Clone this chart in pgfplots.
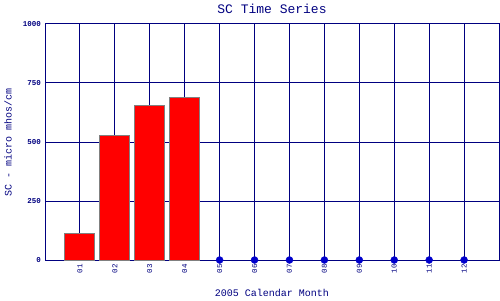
\documentclass[border=0pt]{standalone}
\usepackage{fontspec}
\setmainfont{Liberation Mono}
\usepackage{pgfplots}
\pgfplotsset{compat=1.18}
\definecolor{navy}{RGB}{0,0,128}
\definecolor{dotblue}{RGB}{0,0,204}
\begin{document}
\begin{tikzpicture}[x=1pt,y=1pt]
\useasboundingbox (0,0) rectangle (500,300);
\begin{axis}[
  at={(45pt,40pt)}, anchor=south west,
  scale only axis, width=454pt, height=236pt,
  xmin=0, xmax=13, ymin=0, ymax=1000,
  xtick={1,2,3,4,5,6,7,8,9,10,11,12},
  xticklabels={01,02,03,04,05,06,07,08,09,10,11,12},
  ytick={0,250,500,750,1000},
  /pgf/number format/assume math mode=true,
  /pgf/number format/1000 sep={},
  grid=major,
  major grid style={navy, line width=1pt},
  axis line style={navy, line width=1pt},
  tick style={draw=none},
  yticklabel style={font=\fontsize{7.5}{8}\selectfont\bfseries, text=navy, inner sep=0pt},
  yticklabel shift={4pt},
  xticklabel style={font=\fontsize{7.5}{8}\selectfont, text=navy, rotate=90, anchor=east, inner sep=0pt},
  xticklabel shift={4pt},
  every axis title shift=0pt,
  title={SC Time Series},
  title style={font=\fontsize{13}{14}\selectfont, text=navy, at={(axis description cs:0.5,1.0636)}, anchor=center},
  xlabel={2005 Calendar Month},
  xlabel style={font=\fontsize{10}{11}\selectfont, text=navy, at={(axis description cs:0.5,-0.14)}, anchor=center},
  ylabel={SC - micro mhos/cm},
  ylabel style={font=\fontsize{10}{11}\selectfont, text=navy, at={(axis description cs:-0.0815,0.5)}, anchor=center, rotate=0},
  clip=false,
]
\addplot[ybar, bar width=30pt, fill=red, draw=gray, line width=1pt] coordinates {(1,114) (2,527) (3,655) (4,689)};
\addplot[only marks, mark=*, mark size=3.5pt, color=dotblue] coordinates {(5,0) (6,0) (7,0) (8,0) (9,0) (10,0) (11,0) (12,0)};
\end{axis}
\end{tikzpicture}
\end{document}
